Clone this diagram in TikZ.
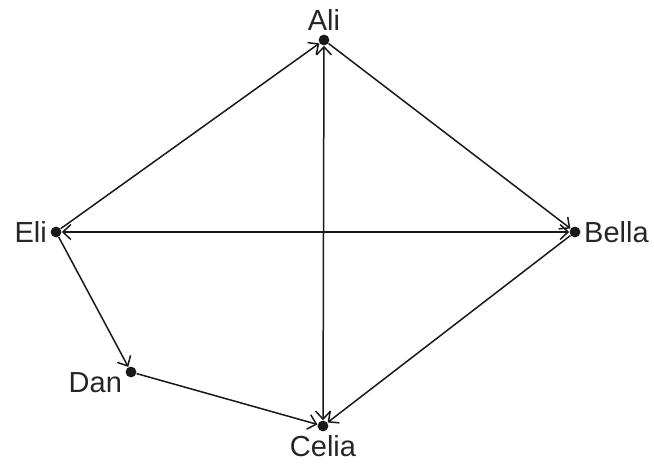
\documentclass[tikz,border=0pt]{standalone}
\usepackage{fontspec}
\setmainfont{Liberation Sans}
\usetikzlibrary{arrows.meta}

\begin{document}
\begin{tikzpicture}[x=0.5pt, y=-0.5pt,
    person/.style={circle, fill=black!90, inner sep=0pt, minimum size=5.4pt},
    tag/.style={font=\fontsize{14.5}{17}\selectfont, text=black!85, inner sep=1.5pt},
    link/.style={-{Straight Barb[length=4pt, width=7.5pt]}, line width=0.75pt, black!90},
    both/.style={{Straight Barb[length=4pt, width=7.5pt]}-{Straight Barb[length=4pt, width=7.5pt]}, line width=0.75pt, black!90}]

  \useasboundingbox (0,0) rectangle (654,466);

  % People
  \node[person, label={[tag, label distance=0pt]above:Ali}] (ali) at (324,40) {};
  \node[person, label={[tag, label distance=0pt]right:Bella}] (bella) at (575,232) {};
  \node[person, label={[tag, label distance=0pt]below:Celia}] (celia) at (323,426) {};
  \node[person, label={[tag, label distance=-1pt, xshift=-1.5pt, yshift=3pt]below left:Dan}] (dan) at (131,372) {};
  \node[person, label={[tag, label distance=0pt]left:Eli}] (eli) at (56,232) {};

  % Relations
  \draw[link] (eli) -- (ali);
  \draw[link] (ali) -- (bella);
  \draw[link] (bella) -- (celia);
  \draw[link] (eli) -- (dan);
  \draw[link] (dan) -- (celia);
  \draw[both] (eli) -- (bella);
  \draw[both] (celia) -- (ali);
\end{tikzpicture}
\end{document}
